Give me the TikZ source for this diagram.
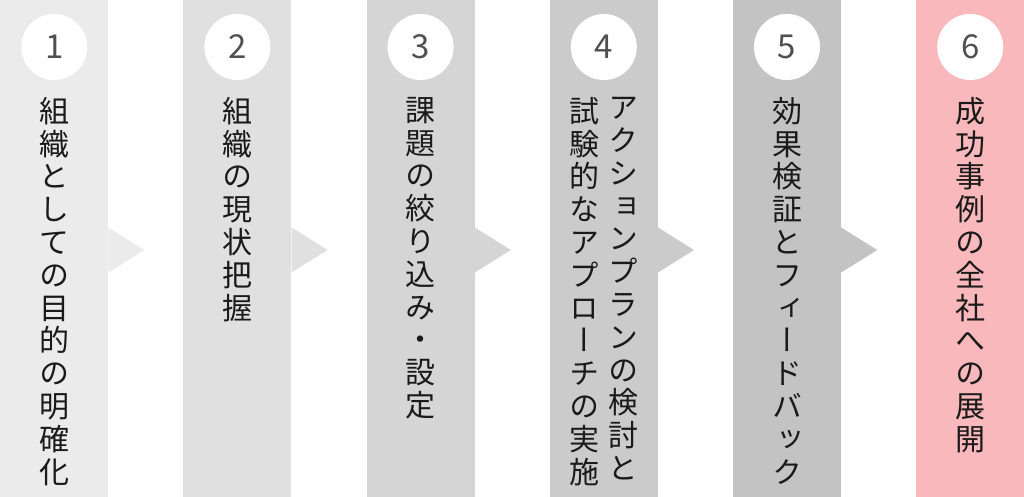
\documentclass[tikz,border=0pt]{standalone}
\usepackage{fontspec}
\newfontfamily\vfont[RawFeature=+vert]{Noto Sans CJK JP}
\newfontfamily\numfont{Noto Sans CJK JP}
\definecolor{c1}{HTML}{EBEBEB}
\definecolor{c2}{HTML}{E0E0E0}
\definecolor{c3}{HTML}{D5D5D5}
\definecolor{c4}{HTML}{CBCBCB}
\definecolor{c5}{HTML}{C3C3C3}
\definecolor{c6}{HTML}{F9B8BB}
\definecolor{numgray}{HTML}{505050}
\definecolor{txt}{HTML}{1A1A1A}
\tikzset{
  colbox/.style={fill=#1, draw=none, minimum width=108pt, minimum height=497pt, inner sep=0pt, anchor=south west},
  tri/.style={fill=#1, draw=none},
  numcircle/.style={circle, fill=white, draw=none, minimum size=66pt, inner sep=0pt, font={\numfont\fontsize{33}{33}\selectfont}, text=numgray},
  vtext/.style={anchor=north, inner sep=0pt, align=center, text=txt, font={\vfont\fontsize{30}{32.8}\selectfont}}
}
\begin{document}
\begin{tikzpicture}[x=1pt,y=1pt]
\useasboundingbox (0,0) rectangle (1024,497);
% columns
\node[colbox=c1] (b1) at (0,0) {};
\node[colbox=c2] (b2) at (183.2,0) {};
\node[colbox=c3] (b3) at (366.4,0) {};
\node[colbox=c4] (b4) at (549.6,0) {};
\node[colbox=c5] (b5) at (732.8,0) {};
\node[colbox=c6] (b6) at (916,0) {};
% arrow triangles
\foreach \i/\c in {1/c1,2/c2,3/c3,4/c4,5/c5}{
  \fill[tri=\c] ([yshift=22.5pt]b\i.east |- 0,247) -- ([xshift=36pt]b\i.east |- 0,247) -- ([yshift=-22.5pt]b\i.east |- 0,247) -- cycle;
}
% number circles
\foreach \i in {1,...,6}{
  \node[numcircle] (n\i) at (b\i.center |- 0,450) {\i};
}
% texts
\node[vtext] (t1) at (b1.center |- 0,400) {組\\織\\と\\し\\て\\の\\目\\的\\の\\明\\確\\化};
\node[vtext] (t2) at (b2.center |- 0,400) {組\\織\\の\\現\\状\\把\\握};
\node[vtext] (t3) at (b3.center |- 0,400) {課\\題\\の\\絞\\り\\込\\み\\・\\設\\定};
\node[vtext] (t4a) at ([xshift=19.5pt]b4.center |- 0,400) {ア\\ク\\シ\\ョ\\ン\\プ\\ラ\\ン\\の\\検\\討\\と};
\node[vtext] (t4b) at ([xshift=-19.5pt]b4.center |- 0,400) {試\\験\\的\\な\\ア\\プ\\ロ\\ー\\チ\\の\\実\\施};
\node[vtext] (t5) at (b5.center |- 0,400) {効\\果\\検\\証\\と\\フ\\ィ\\ー\\ド\\バ\\ッ\\ク};
\node[vtext] (t6) at (b6.center |- 0,400) {成\\功\\事\\例\\の\\全\\社\\へ\\の\\展\\開};
\end{tikzpicture}
\end{document}
